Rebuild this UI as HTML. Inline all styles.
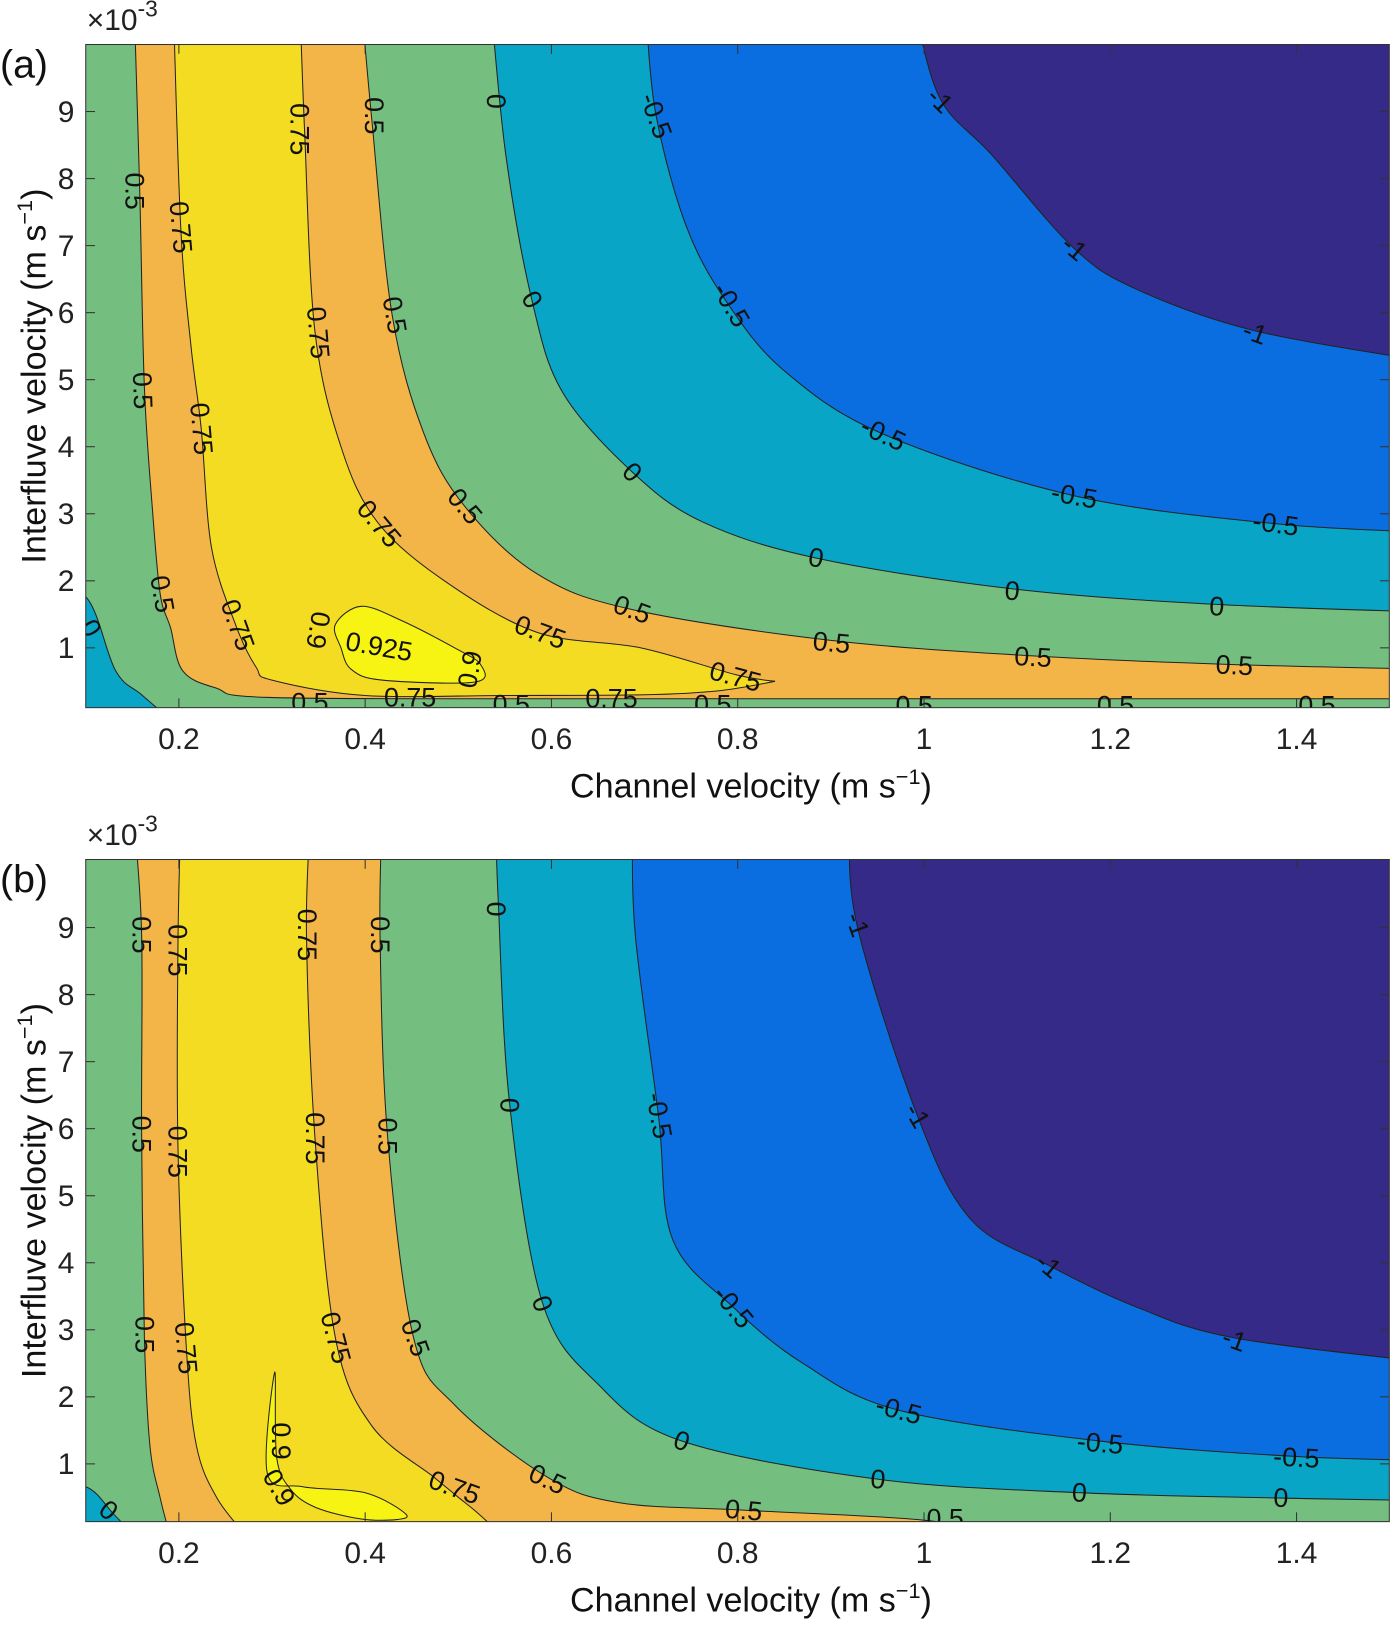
<!DOCTYPE html>
<html><head><meta charset="utf-8"><style>
html,body{margin:0;padding:0;background:#fff;}
svg{display:block;font-family:"Liberation Sans",sans-serif;}
</style></head><body>
<svg id="fig" width="1395" height="1625" viewBox="0 0 1350.5 1573">
<defs>
<clipPath id="clipA"><rect x="83" y="43" width="1262" height="642"/></clipPath>
<clipPath id="clipB"><rect x="83" y="832" width="1262" height="641"/></clipPath>
</defs>
<g id="panelA"></g>
<g id="panelB"></g>
</svg>
<script>
// ---------- Panel (a) contour data (x: m/s, y: 1e-3 m/s) ----------
const a05Lx=[0.152,0.158,0.163,0.172,0.180,0.191,0.204,0.24,0.297,0.6,1.0,1.55];
const a05Ly=[10.6,7.8,4.88,3.0,1.8,1.3,0.66,0.4,0.26,0.24,0.24,0.24];
const a05Rx=[0.396,0.407,0.429,0.463,0.507,0.585,0.687,0.901,1.117,1.333,1.55];
const a05Ry=[10.6,8.9,5.96,4.2,3.11,2.1,1.57,1.11,0.88,0.75,0.68];
const a075Lx=[0.194,0.202,0.213,0.224,0.235,0.261,0.283,0.30,0.40,0.55,0.70,0.78,0.84];
const a075Ly=[10.6,7.27,5.5,4.27,2.5,1.34,0.71,0.52,0.29,0.29,0.3,0.36,0.5];
const a075Rx=[0.330,0.335,0.346,0.374,0.413,0.485,0.585,0.696,0.798,0.84];
const a075Ry=[10.6,8.7,5.73,4.0,2.88,2.0,1.23,1.0,0.6,0.5];
const a09x=[0.368,0.396,0.44,0.496,0.524,0.518,0.418,0.385,0.374];
const a09y=[1.35,1.62,1.4,1.0,0.75,0.49,0.52,0.68,1.0];
const a0Rx=[0.535,0.551,0.579,0.612,0.687,0.762,0.884,1.095,1.311,1.55];
const a0Ry=[10.6,8.35,6.19,4.81,3.62,2.88,2.34,1.88,1.65,1.53];
const am05x=[0.701,0.712,0.745,0.790,0.851,0.956,1.161,1.378,1.55];
const am05y=[10.6,8.97,7.28,6.12,5.12,4.19,3.27,2.85,2.72];
const am1x=[0.989,1.017,1.073,1.161,1.228,1.355,1.55];
const am1y=[10.6,9.2,8.35,6.96,6.35,5.73,5.25];
const a0Lx=[0.05,0.1,0.132,0.16,0.194];
const a0Ly=[1.76,1.76,0.66,0.3,-0.1];
// ---------- Panel (b) ----------
const b05Lx=[0.152,0.160,0.160,0.163,0.169,0.180,0.191];
const b05Ly=[10.6,8.9,5.96,2.88,1.26,0.49,-0.1];
const b05Rx=[0.418,0.416,0.424,0.452,0.496,0.596,0.673,0.806,1.0,1.1];
const b05Ry=[10.6,8.9,5.89,2.88,1.88,0.8,0.42,0.31,0.16,-0.1];
const b075Lx=[0.202,0.199,0.199,0.208,0.219,0.241,0.274];
const b075Ly=[10.6,8.74,5.73,2.73,1.26,0.49,-0.1];
const b075Rx=[0.341,0.337,0.346,0.368,0.407,0.474,0.501,0.518,0.55];
const b075Ry=[10.6,8.9,5.89,2.88,1.57,0.8,0.49,0.3,-0.1];
const b09x=[0.303,0.295,0.333,0.4,0.443,0.434,0.395,0.347,0.32,0.305];
const b09y=[2.37,0.86,0.66,0.57,0.26,0.17,0.18,0.35,0.62,1.1];
const b0Rx=[0.540,0.543,0.555,0.590,0.650,0.740,0.951,1.167,1.383,1.55];
const b0Ry=[10.6,9.35,6.38,3.42,2.19,1.34,0.77,0.57,0.49,0.45];
const bm05x=[0.687,0.690,0.715,0.73,0.795,0.87,0.973,1.189,1.400,1.55];
const bm05y=[10.6,8.9,6.19,4.35,3.34,2.5,1.8,1.34,1.11,1.05];
const bm1x=[0.920,0.928,0.993,1.05,1.134,1.228,1.333,1.55];
const bm1y=[10.6,9.04,6.19,4.65,3.96,3.34,2.88,2.5];
const b0Lx=[0.05,0.1,0.13,0.154];
const b0Ly=[0.66,0.66,0.25,-0.1];
// ticks
const xTicks=[0.2,0.4,0.6,0.8,1,1.2,1.4];
const xTickLabels=["0.2","0.4","0.6","0.8","1","1.2","1.4"];
const yTicks=[1,2,3,4,5,6,7,8,9];
const yTickLabels=["1","2","3","4","5","6","7","8","9"];
// contour labels [px,py,text,rotation] (annotation positions)
const labelsA=[[290,125,"0.75",90],[362,112,"0.5",90],[480,98,"0",90],[635,112,"-0.5",70],[910,97,"-1",45],[130,185,"0.5",90],[175,220,"0.75",85],[1040,240,"-1",40],[515,290,"0",60],[708,295,"-0.5",60],[308,322,"0.75",85],[382,305,"0.5",80],[1215,322,"-1",20],[138,378,"0.5",88],[195,415,"0.75",85],[855,420,"-0.5",25],[612,457,"0",45],[1040,480,"-0.5",10],[1235,507,"-0.5",8],[367,507,"0.75",50],[450,490,"0.5",50],[790,540,"0",10],[980,572,"0",5],[1178,587,"0",3],[157,575,"0.5",80],[612,590,"0.5",20],[523,612,"0.75",20],[805,622,"0.5",5],[1000,636,"0.5",3],[1195,644,"0.5",3],[88,608,"0",60],[230,605,"0.75",70],[308,610,"0.9",100],[367,626,"0.925",10],[455,648,"0.9",-80],[712,655,"0.75",15],[300,680,"0.5",0],[397,675,"0.75",0],[495,682,"0.5",0],[592,676,"0.75",0],[690,682,"0.5",0],[885,683,"0.5",0],[1080,683,"0.5",0],[1275,683,"0.5",0]];
const labelsB=[[137,905,"0.5",90],[172,920,"0.75",90],[297,905,"0.75",90],[368,905,"0.5",90],[480,880,"0",90],[830,895,"-1",70],[137,1098,"0.5",90],[172,1115,"0.75",90],[305,1102,"0.75",90],[375,1100,"0.5",90],[493,1070,"0",90],[638,1080,"-0.5",80],[888,1080,"-1",60],[1015,1225,"-1",40],[525,1262,"0",70],[710,1265,"-0.5",50],[1195,1297,"-1",20],[140,1292,"0.5",90],[180,1305,"0.75",85],[325,1295,"0.75",75],[402,1295,"0.5",70],[870,1365,"-0.5",15],[660,1395,"0",20],[1065,1397,"-0.5",5],[1255,1411,"-0.5",3],[272,1395,"0.9",90],[270,1440,"0.9",60],[440,1440,"0.75",20],[530,1432,"0.5",25],[850,1432,"0",5],[1045,1445,"0",3],[1240,1450,"0",2],[720,1462,"0.5",5],[915,1470,"0.5",0],[105,1462,"0",40]];

const C={purple:"#352a87",blue:"#0b6ee0",teal:"#08a5c6",green:"#74be7f",orange:"#f3b548",yellow:"#f4dc22",light:"#f7f414"};
const NS="http://www.w3.org/2000/svg";
const X=x=>83+(x-0.1)*901.7;
function zip(xs,ys){return xs.map((v,i)=>[v,ys[i]]);}
function el(tag,attrs,parent){const e=document.createElementNS(NS,tag);for(const k in attrs)e.setAttribute(k,attrs[k]);parent.appendChild(e);return e;}
// smooth Catmull-Rom segment through points (pixel coords), continuing an existing path
function smoothSeg(P,start){
  let s=start?("M"+P[0][0].toFixed(1)+","+P[0][1].toFixed(1)):("L"+P[0][0].toFixed(1)+","+P[0][1].toFixed(1));
  for(let i=0;i<P.length-1;i++){
    const p0=P[i-1]||P[i],p1=P[i],p2=P[i+1],p3=P[i+2]||P[i+1];
    const c1=[p1[0]+(p2[0]-p0[0])/6,p1[1]+(p2[1]-p0[1])/6];
    const c2=[p2[0]-(p3[0]-p1[0])/6,p2[1]-(p3[1]-p1[1])/6];
    s+="C"+c1[0].toFixed(1)+","+c1[1].toFixed(1)+" "+c2[0].toFixed(1)+","+c2[1].toFixed(1)+" "+p2[0].toFixed(1)+","+p2[1].toFixed(1);
  }
  return s;
}
function toPx(pts,Y){return pts.map(p=>[X(p[0]),Y(p[1])]);}
// segs: list of point arrays (data); each smoothed, joined by straight lines
function buildPath(segs,Y,close){
  let d="";segs.forEach((s,i)=>{d+=smoothSeg(toPx(s,Y),i===0);});
  return d+(close?"Z":"");
}
function closedSmooth(pts,Y){
  const P=toPx(pts,Y);const n=P.length;let s="M"+P[0][0].toFixed(1)+","+P[0][1].toFixed(1);
  for(let i=0;i<n;i++){
    const p0=P[(i-1+n)%n],p1=P[i],p2=P[(i+1)%n],p3=P[(i+2)%n];
    const c1=[p1[0]+(p2[0]-p0[0])/6,p1[1]+(p2[1]-p0[1])/6];
    const c2=[p2[0]-(p3[0]-p1[0])/6,p2[1]-(p3[1]-p1[1])/6];
    s+="C"+c1[0].toFixed(1)+","+c1[1].toFixed(1)+" "+c2[0].toFixed(1)+","+c2[1].toFixed(1)+" "+p2[0].toFixed(1)+","+p2[1].toFixed(1);
  }
  return s+"Z";
}
const sup='<tspan dy="-13" font-size="21">−1</tspan><tspan dy="13">)</tspan>';

function panel(g,clipId,y0,top,bot,d,labels,tag){
  const Y=y=>y0-y*64.9;
  const cg=el("g",{"clip-path":"url(#"+clipId+")"},g);
  const bg=el("rect",{x:83,y:top,width:1262,height:bot-top,fill:C.green},cg);
  
  
  const rt=(c)=>[[1.6,c[c.length-1][1]],[1.6,10.6]];
  const fills=[
    ["orange-region",C.orange,buildPath([d.o05L,d.o05R.slice().reverse()],Y,true)],
    ["yellow-region",C.yellow,buildPath([d.y075L,d.y075R.slice().reverse()],Y,true)],
    ["peak-region",C.light,closedSmooth(d.p09,Y)],
    ["teal-region",C.teal,buildPath([d.z0R,rt(d.z0R)],Y,true)],
    ["blue-region",C.blue,buildPath([d.m05,rt(d.m05)],Y,true)],
    ["purple-region",C.purple,buildPath([d.m1,rt(d.m1)],Y,true)],
    ["corner-teal-region",C.teal,buildPath([d.z0L,[[0.05,-0.1]]],Y,true)]
  ];
  fills.forEach(f=>{
    const p=el("path",{d:f[2],fill:f[1],stroke:"none"},cg);
    
    
  });
  const lines=[d.o05L,d.o05R,d.y075L,d.y075R,d.z0R,d.m05,d.m1,d.z0L];
  lines.forEach(l=>{
    const p=el("path",{d:buildPath([l],Y,false),fill:"none",stroke:"#222","stroke-width":1},cg);
    
    
  });
  const pl=el("path",{d:closedSmooth(d.p09,Y),fill:"none",stroke:"#222","stroke-width":1},cg);
  
  
  labels.forEach(L=>{
    const t=el("text",{x:L[0],y:L[1],"font-size":26,"text-anchor":"middle","dominant-baseline":"central",fill:"#111",transform:"rotate("+L[3]+" "+L[0]+" "+L[1]+")"},cg);
    t.textContent=L[2];
    
    
  });
  const fr=el("rect",{x:83,y:top,width:1262,height:bot-top,fill:"none",stroke:"#333","stroke-width":1},g);
  
  
  xTicks.forEach((v,i)=>{
    const x=X(v);
    el("line",{x1:x,y1:bot,x2:x,y2:bot-9,stroke:"#333"},g);
    el("line",{x1:x,y1:top,x2:x,y2:top+9,stroke:"#333"},g);
    const t=el("text",{x:x,y:bot+40,"font-size":29,"text-anchor":"middle",fill:"#222"},g);
    t.textContent=xTickLabels[i];
    
    
  });
  yTicks.forEach((v,i)=>{
    const y=Y(v);
    el("line",{x1:83,y1:y,x2:92,y2:y,stroke:"#333"},g);
    el("line",{x1:1345,y1:y,x2:1336,y2:y,stroke:"#333"},g);
    const t=el("text",{x:72,y:y+10,"font-size":29,"text-anchor":"end",fill:"#222"},g);
    t.textContent=yTickLabels[i];
    
    
  });
  const ex=el("text",{x:84,y:top-14,"font-size":29,fill:"#222"},g);
  ex.innerHTML='×10<tspan dy="-13" font-size="22">-3</tspan>';
  
  
  const xt=el("text",{x:727,y:bot+87,"font-size":33,"text-anchor":"middle",fill:"#111"},g);
  xt.innerHTML='Channel velocity (m s'+sup;
  
  
  const cy=(top+bot)/2;
  const yt=el("text",{x:44,y:cy,"font-size":33,"text-anchor":"middle",fill:"#111",transform:"rotate(-90 44 "+cy+")"},g);
  yt.innerHTML='Interfluve velocity (m s'+sup;
  
  
  const pt=el("text",{x:0,y:top+32,"font-size":38,fill:"#111"},g);
  pt.textContent=tag;
  
  
}
panel(document.getElementById("panelA"),"clipA",692,43,685,{
  o05L:zip(a05Lx,a05Ly),o05R:zip(a05Rx,a05Ry),y075L:zip(a075Lx,a075Ly),y075R:zip(a075Rx,a075Ry),
  p09:zip(a09x,a09y),z0R:zip(a0Rx,a0Ry),m05:zip(am05x,am05y),m1:zip(am1x,am1y),z0L:zip(a0Lx,a0Ly)},labelsA,"(a)");
panel(document.getElementById("panelB"),"clipB",1482,832,1473,{
  o05L:zip(b05Lx,b05Ly),o05R:zip(b05Rx,b05Ry),y075L:zip(b075Lx,b075Ly),y075R:zip(b075Rx,b075Ry),
  p09:zip(b09x,b09y),z0R:zip(b0Rx,b0Ry),m05:zip(bm05x,bm05y),m1:zip(bm1x,bm1y),z0L:zip(b0Lx,b0Ly)},labelsB,"(b)");
</script>
</body></html>
